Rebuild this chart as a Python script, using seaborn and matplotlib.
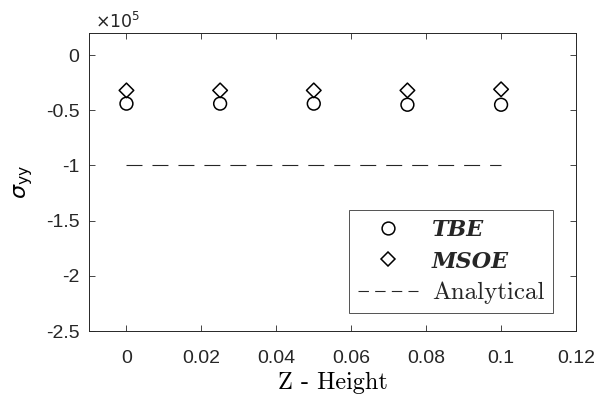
import matplotlib
matplotlib.use("Agg")
import matplotlib.pyplot as plt
import seaborn as sns
import pandas as pd
from matplotlib.lines import Line2D

z = [0.0, 0.025, 0.05, 0.075, 0.1]
tbe = [-0.44, -0.44, -0.44, -0.45, -0.45]
msoe = [-0.32, -0.32, -0.32, -0.32, -0.31]
analytical = [-1.0, -1.0, -1.0, -1.0, -1.0]
xticks = [0, 0.02, 0.04, 0.06, 0.08, 0.1, 0.12]
xticklabels = ["0", "0.02", "0.04", "0.06", "0.08", "0.1", "0.12"]
yticks = [0, -0.5, -1, -1.5, -2, -2.5]
yticklabels = ["0", "-0.5", "-1", "-1.5", "-2", "-2.5"]

sns.set_theme(style="white")
plt.rcParams["font.family"] = ["Liberation Sans", "DejaVu Sans"]
plt.rcParams["mathtext.fontset"] = "cm"
plt.rcParams["lines.scale_dashes"] = False

df = pd.DataFrame({"z": z, "tbe": tbe, "msoe": msoe, "ana": analytical})

fig = plt.figure(figsize=(5.98, 4.03), dpi=100)
ax = fig.add_axes([89 / 598, 1 - 331 / 403, (576 - 89) / 598, (331 - 33) / 403])

sns.lineplot(data=df, x="z", y="ana", ax=ax, color="#262626", lw=0.8,
             linestyle=(0, (11.5, 7.2)), legend=False)
sns.scatterplot(data=df, x="z", y="tbe", ax=ax, marker="o", s=85,
                facecolor="none", edgecolor="black", linewidth=1.1, legend=False)
sns.scatterplot(data=df, x="z", y="msoe", ax=ax, marker="D", s=55,
                facecolor="none", edgecolor="black", linewidth=1.1, legend=False)

ax.set_xlim(-0.01, 0.12)
ax.set_ylim(-2.5, 0.2)
ax.set_xticks(xticks)
ax.set_xticklabels(xticklabels)
ax.set_yticks(yticks)
ax.set_yticklabels(yticklabels)
ax.tick_params(direction="in", length=4, width=0.6, color="#262626",
               labelsize=14, labelcolor="#262626", top=True, right=True,
               bottom=True, left=True)
ax.tick_params(axis="x", pad=14)
ax.tick_params(axis="y", pad=7)
for s in ax.spines.values():
    s.set_color("#262626")
    s.set_linewidth(0.7)

ax.set_xlabel("Z - Height", fontsize=17.5, color="black", labelpad=3,
              fontfamily="cmr10")
ax.set_ylabel(r"$\sigma_{\mathrm{yy}}$", fontsize=16, color="black", labelpad=8,
              math_fontfamily="dejavusans")
ax.text(0.012, 1.006, r"$\times10^{5}$", transform=ax.transAxes, fontsize=12.5,
        color="#262626", math_fontfamily="dejavusans", ha="left", va="bottom")

handles = [
    Line2D([], [], marker="o", markersize=9.2, markerfacecolor="none",
           markeredgecolor="black", markeredgewidth=1.1, linestyle="none"),
    Line2D([], [], marker="D", markersize=7.4, markerfacecolor="none",
           markeredgecolor="black", markeredgewidth=1.1, linestyle="none"),
    Line2D([], [], color="#262626", lw=0.8, linestyle=(0, (7.5, 4.5))),
]
leg = ax.legend(handles, ["TBE", "MSOE", "Analytical"],
                loc="lower right", bbox_to_anchor=(0.953, 0.06), fontsize=18,
                frameon=True, fancybox=False, edgecolor="#262626",
                handlelength=2.4, handletextpad=0.55, borderpad=0.35,
                labelspacing=0.36, borderaxespad=0)
leg.get_frame().set_linewidth(0.7)
texts = leg.get_texts()
for t in texts[:2]:
    t.set_fontfamily(["DejaVu Serif"])
    t.set_fontstyle("italic")
    t.set_fontweight("bold")
    t.set_fontsize(16)
texts[2].set_fontfamily(["cmr10"])
fig.savefig("out.png", dpi=100)
